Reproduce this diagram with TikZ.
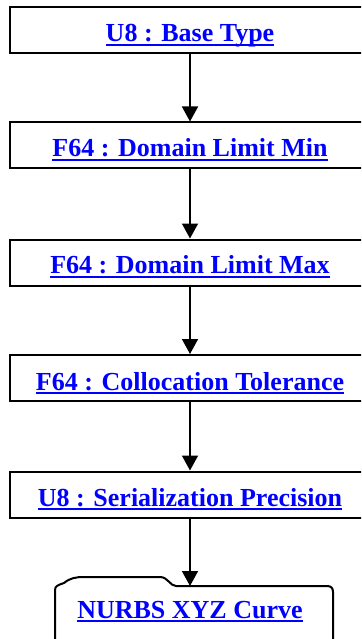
\documentclass[tikz,border=0pt]{standalone}
\usepackage{fontspec}
\setmainfont{Liberation Serif}
\usetikzlibrary{arrows.meta}
\definecolor{linkblue}{RGB}{0,0,255}
\newcommand{\lnk}[1]{\setbox0\hbox{#1}\rlap{\rule[-4pt]{\wd0}{1.8pt}}\box0}
\tikzset{
 stepbox/.style={draw=black, line width=2pt, minimum width=360pt, minimum height=46pt, inner sep=0pt},
 lbl/.style={text=linkblue, font=\fontsize{26}{30}\selectfont\bfseries, anchor=base, inner sep=0pt},
 conn/.style={line width=1.6pt, -{Triangle[width=16pt,length=15pt]}},
 folder/.style={draw=black, line width=2pt, line join=round},
}
\begin{document}
\begin{tikzpicture}[x=1pt,y=-1pt]
\clip (0,0) rectangle (361,639);
\fill[white] (0,0) rectangle (361,639);
\node[stepbox] (b1) at (190,30) {};
\node[stepbox] (b2) at (190,145.5) {};
\node[stepbox] (b3) at (190,262.5) {};
\node[stepbox] (b4) at (190,378) {};
\node[stepbox] (b5) at (190,494.5) {};
\node[lbl] (t1) at (190,42) {\lnk{U8 : Base Type}};
\node[lbl] (t2) at (190,157) {\lnk{F64 : Domain Limit Min}};
\node[lbl] (t3) at (190,273.5) {\lnk{F64 : Domain Limit Max}};
\node[lbl] (t4) at (190,390) {\lnk{F64 : Collocation Tolerance}};
\node[lbl] (t5) at (190,506) {\lnk{U8 : Serialization Precision}};
\draw[folder] (55,650) -- (55,590) .. controls (55,586) and (58,585) .. (64,583)
  .. controls (70,578) and (76,577) .. (84,577) -- (160,577)
  .. controls (168,577) and (170,586) .. (176,586) -- (327,586)
  .. controls (331,586) and (333,588) .. (333,592) -- (333,650);
\coordinate (f6) at (190,586);
\node[lbl] (t6) at (190,618) {\lnk{NURBS XYZ Curve}};
\draw[conn] (b1.south) -- (b2.north);
\draw[conn] (b2.south) -- (b3.north);
\draw[conn] (b3.south) -- (b4.north);
\draw[conn] (b4.south) -- (b5.north);
\draw[conn] (b5.south) -- (f6);
\end{tikzpicture}
\end{document}
